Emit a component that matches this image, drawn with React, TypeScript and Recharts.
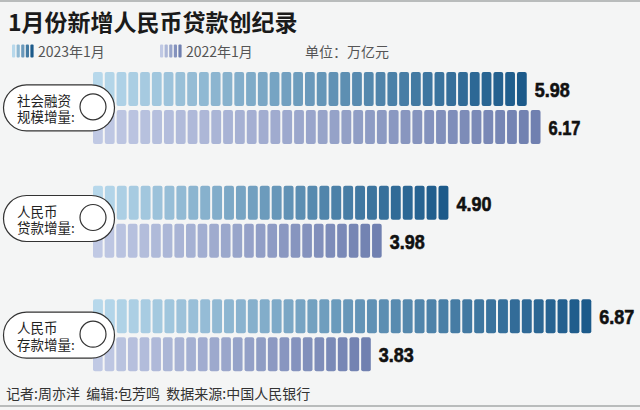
import React from 'react';
import { BarChart, Bar, XAxis, YAxis, LabelList } from 'recharts';

const categories = ['社会融资规模增量', '人民币贷款增量', '人民币存款增量'];
const labelLines = [
  ['社会融资', '规模增量:'],
  ['人民币', '贷款增量:'],
  ['人民币', '存款增量:'],
];
const values2023 = [5.98, 4.9, 6.87];
const values2022 = [6.17, 3.98, 3.83];
const seriesNames = ['2023年1月', '2022年1月'];

const data = categories.map((name, i) => ({
  name,
  idx: i,
  v2023: values2023[i],
  v2022: values2022[i],
}));

const C2023: [number[], number[]] = [[183, 216, 235], [28, 90, 138]];
const C2022: [number[], number[]] = [[192, 201, 228], [112, 128, 176]];

const mix = (a: number[], b: number[], t: number) =>
  `rgb(${a.map((v, k) => Math.round(v + (b[k] - v) * t)).join(',')})`;

const makeShape = (cols: [number[], number[]]) => (props: any) => {
  const { x, y, width, height } = props;
  if (!width || width <= 0) return <g />;
  const gap = 2;
  const pitchTarget = 11.8;
  const n = Math.max(1, Math.round((width + gap) / pitchTarget));
  const pitch = (width + gap) / n;
  const w = pitch - gap;
  const segs = [];
  for (let i = 0; i < n; i++) {
    const t = n === 1 ? 1 : i / (n - 1);
    segs.push(
      <rect key={i} x={x + i * pitch} y={y} width={w} height={height} rx={2} ry={2} fill={mix(cols[0], cols[1], t)} />
    );
  }
  return <g>{segs}</g>;
};

const Shape2023 = makeShape(C2023);
const Shape2022 = makeShape(C2022);

const cjk = "'Noto Sans CJK SC', sans-serif";

const PillTick = (props: any) => {
  const { y, payload } = props;
  const i = categories.indexOf(payload.value);
  const lines = labelLines[i] || [];
  const cy = y + (i === 1 ? -3 : 0);
  return (
    <g>
      <rect x={3.5} y={cy - 23} width={111} height={46} rx={23} ry={23} fill="#ffffff" stroke="#333" strokeWidth={1.2} />
      <circle cx={93} cy={cy - 1} r={13} fill="none" stroke="#333" strokeWidth={1.2} />
      <text fontSize={13.5} fill="#222" fontFamily={cjk}>
        <tspan x={17} y={cy - 2}>{lines[0]}</tspan>
        <tspan x={17} y={cy + 14.5}>{lines[1]}</tspan>
      </text>
    </g>
  );
};

const MiniIcon = ({ cols }: { cols: [number[], number[]] }) => (
  <svg width={22} height={14} style={{ display: 'block' }}>
    {[0, 1, 2, 3, 4].map((i) => (
      <rect key={i} x={i * 4.6} y={0.5} width={3.2} height={13} rx={1} fill={mix(cols[0], cols[1], i / 4)} />
    ))}
  </svg>
);

const charW = (s: string) =>
  s.split('').reduce((acc, c) => acc + (c === '.' ? 5 : c === '1' ? 7 : 10), 0);

const renderValue = (props: any) => {
  const { x, y, width, height, value } = props;
  const s = Number(value).toFixed(2);
  return (
    <text
      x={x + width + 8}
      y={y + height / 2 + 1}
      dominantBaseline="central"
      fontFamily="'Liberation Sans', Arial, sans-serif"
      fontWeight={700}
      fontSize={20}
      fill="#111"
      stroke="#111"
      strokeWidth={0.6}
      textLength={charW(s)}
      lengthAdjust="spacingAndGlyphs"
    >
      {s}
    </text>
  );
};

export default function App() {
  return (
    <div style={{ position: 'absolute', left: 0, top: 0, width: 640, height: 410, background: '#f4f5f5', fontFamily: cjk, overflow: 'hidden' }}>
      <div style={{ position: 'absolute', left: 0, top: 0, width: 640, height: 2, background: '#b9bcbc' }} />
      <div style={{ position: 'absolute', left: 0, top: 405, width: 640, height: 2, background: '#b9bcbc' }} />
      <div style={{ position: 'absolute', left: 8, top: 5, fontSize: 23, fontWeight: 700, color: '#1a1a1a', lineHeight: '32px', whiteSpace: 'nowrap' }}>
        1月份新增人民币贷款创纪录
      </div>
      <div style={{ position: 'absolute', left: 12, top: 44, display: 'flex', alignItems: 'center' }}>
        <MiniIcon cols={C2023} />
        <span style={{ marginLeft: 4, fontSize: 14, color: '#555', lineHeight: '14px' }}>{seriesNames[0]}</span>
      </div>
      <div style={{ position: 'absolute', left: 160, top: 44, display: 'flex', alignItems: 'center' }}>
        <MiniIcon cols={C2022} />
        <span style={{ marginLeft: 4, fontSize: 14, color: '#555', lineHeight: '14px' }}>{seriesNames[1]}</span>
      </div>
      <div style={{ position: 'absolute', left: 305, top: 44, fontSize: 14, color: '#555', lineHeight: '14px', whiteSpace: 'nowrap' }}>
        单位：万亿元
      </div>
      <div style={{ position: 'absolute', left: 0, top: 0 }}>
        <BarChart
          width={640}
          height={410}
          data={data}
          layout="vertical"
          margin={{ top: 51, right: 3, bottom: 18, left: 0 }}
          barSize={34}
          barGap={4}
        >
          <XAxis type="number" hide domain={[0, 7.5]} />
          <Bar dataKey="v2023" shape={Shape2023} isAnimationActive={false}>
            <LabelList dataKey="v2023" content={renderValue} />
          </Bar>
          <Bar dataKey="v2022" shape={Shape2022} isAnimationActive={false}>
            <LabelList dataKey="v2022" content={renderValue} />
          </Bar>
          <YAxis type="category" dataKey="name" width={93} axisLine={false} tickLine={false} tick={<PillTick />} interval={0} />
        </BarChart>
      </div>
      <div style={{ position: 'absolute', left: 6, top: 384, fontSize: 14, color: '#333', lineHeight: '18px', whiteSpace: 'pre' }}>
        记者:周亦洋  编辑:包芳鸣  数据来源:中国人民银行
      </div>
    </div>
  );
}
